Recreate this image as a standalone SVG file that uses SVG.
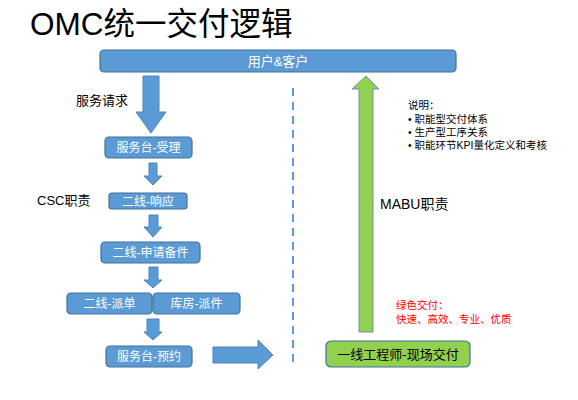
<svg xmlns="http://www.w3.org/2000/svg" width="578" height="400" viewBox="0 0 578 400">
<style>
text{font-family:"Liberation Sans","Noto Sans CJK SC",sans-serif;}
.box{fill:#5B9BD5;stroke:#41719C;stroke-width:1.2;}
.gbox{fill:#92D050;stroke:#41719C;stroke-width:1.2;}
.bt{fill:#fff;font-size:12px;text-anchor:middle;}
.arr{fill:#5B9BD5;stroke:#4A86C0;stroke-width:1;}
.lbl{fill:#000;font-size:13px;}
.note{fill:#000;font-size:10.5px;}
.red{fill:#FF0000;font-size:10.5px;}
</style>
<rect width="578" height="400" fill="#fff"/>
<text x="30" y="35" style="font-size:31.5px;fill:#000">OMC统一交付逻辑</text>

<g id="connectors">
<path class="arr" d="M143,76 H159 V112 H166 L151,133 L136,112 H143 Z"/>
<path class="arr" d="M149,163 H157 V176 H162 L153,185 L144,176 H149 Z"/>
<path class="arr" d="M149,215 H158 V227 H162 L153,237 L144,227 H149 Z"/>
<path class="arr" d="M149,267 H158 V280 H162 L153,288 L144,280 H149 Z"/>
<path class="arr" d="M147,319 H159 V332 H162 L153,340 L144,332 H147 Z"/>
<path class="arr" d="M213,347 H258 V340 L273,355 L258,369 V363 H213 Z"/>
<path d="M359,332 V89 H352 L366,76 L379,89 H373 V332 Z" fill="#92D050" stroke="#6F8FB5" stroke-width="1"/>
<line x1="293" y1="88" x2="293" y2="362" stroke="#5B9BD5" stroke-width="2" stroke-dasharray="8,6"/>
</g>

<g id="node-user"><rect class="box" x="100" y="50" width="356" height="22" rx="4"/><text class="bt" x="278" y="66" style="font-size:13px">用户&amp;客户</text></g>
<g id="node-accept"><rect class="box" x="105" y="137" width="87" height="21" rx="4"/><text class="bt" x="148.5" y="152">服务台-受理</text></g>
<g id="node-respond"><rect class="box" x="109" y="193" width="78" height="16" rx="3"/><text class="bt" x="148" y="205.5">二线-响应</text></g>
<g id="node-apply"><rect class="box" x="101" y="242" width="99" height="21" rx="4"/><text class="bt" x="150.5" y="257">二线-申请备件</text></g>
<g id="node-dispatch"><rect class="box" x="67" y="293" width="85" height="21" rx="4"/><text class="bt" x="109.5" y="308">二线-派单</text></g>
<g id="node-warehouse"><rect class="box" x="153" y="293" width="87" height="21" rx="4"/><text class="bt" x="196.5" y="308">库房-派件</text></g>
<g id="node-book"><rect class="box" x="106" y="346" width="86" height="21" rx="4"/><text class="bt" x="149" y="361">服务台-预约</text></g>
<g id="node-engineer"><rect class="gbox" x="326" y="341" width="144" height="26" rx="5"/><text x="398" y="358.5" style="font-size:13px;fill:#000;text-anchor:middle">一线工程师-现场交付</text></g>

<text class="lbl" x="76" y="105">服务请求</text>
<text class="lbl" x="37" y="205">CSC职责</text>
<text x="380" y="209" style="font-size:14px;fill:#000">MABU职责</text>
<text class="note" x="408" y="109">说明：</text>
<text class="note" x="408" y="123">• 职能型交付体系</text>
<text class="note" x="408" y="136">• 生产型工序关系</text>
<text class="note" x="408" y="149">• 职能环节KPI量化定义和考核</text>
<text class="red" x="396" y="309">绿色交付：</text>
<text class="red" x="396" y="323">快速、高效、专业、优质</text>
</svg>
